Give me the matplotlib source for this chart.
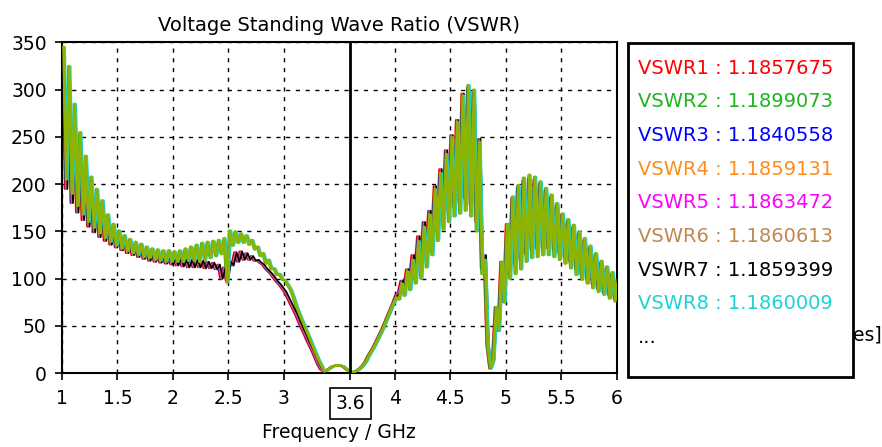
import numpy as np
import matplotlib
matplotlib.use("Agg")
import matplotlib.pyplot as plt
from matplotlib.patches import Rectangle

# frequency knots (GHz); each knot carries a peak at f and a trough at f + half step
freq = np.round(np.arange(1.0, 6.001, 0.05), 2)

# envelope of the lower group (VSWR1, 3, 4, 5, 6, 7)
a_top = [320, 300, 265, 240, 215, 200, 185, 175, 163, 155,
         148, 143, 139, 136, 133, 131, 129, 127, 125, 123,
         121, 121, 120, 120, 120, 119, 118, 117, 115, 112,
         118, 128, 129, 127, 124, 120, 115, 108, 101, 94,
         86, 74, 62, 48, 35, 23, 9, 2, 5, 8,
         8, 4.5, 1.2, 3, 8, 18, 28, 40, 53, 67,
         82, 98, 110, 125, 145, 160, 172, 198, 216, 236,
         252, 268, 296, 302, 298, 248, 125, 5, 70, 118,
         158, 185, 197, 204, 206, 205, 201, 194, 187, 178,
         168, 161, 155, 148, 141, 133, 125, 117, 111, 105,
         98]
a_bot = [195, 180, 170, 162, 155, 149, 144, 140, 136, 133,
         130, 127, 125, 123, 121, 119, 118, 117, 116, 115,
         114, 113, 112, 112, 112, 111, 111, 110, 100, 98,
         114, 118, 120, 120, 119, 117, 111, 105, 97, 90,
         80, 68, 55, 42, 29, 16, 4, 3, 7, 8.5,
         7, 2.5, 1.5, 5, 12, 23, 34, 46, 60, 74,
         85, 90, 98, 108, 115, 128, 140, 155, 165, 172,
         178, 180, 185, 178, 160, 110, 30, 14, 45, 75,
         105, 115, 120, 126, 130, 132, 133, 132, 130, 127,
         123, 117, 110, 104, 99, 94, 89, 85, 82, 78,
         75]

# envelope of the upper group (VSWR2, 8 and the rest)
b_top = [345, 325, 285, 255, 230, 208, 195, 183, 168, 158,
         151, 146, 142, 139, 137, 134, 132, 131, 130, 130,
         129, 130, 132, 134, 136, 138, 139, 140, 141, 143,
         151, 150, 148, 146, 141, 134, 127, 120, 111, 105,
         98, 88, 71, 56, 42, 28, 14, 2, 5, 8,
         8, 4.5, 1.2, 3, 8, 18, 28, 40, 53, 67,
         80, 95, 108, 120, 140, 155, 168, 195, 212, 232,
         250, 266, 294, 305, 300, 245, 120, 5, 70, 118,
         158, 187, 199, 207, 210, 208, 203, 196, 189, 180,
         169, 163, 157, 150, 143, 135, 127, 119, 113, 107,
         100]
b_bot = [205, 190, 177, 168, 160, 154, 148, 143, 139, 135,
         132, 129, 127, 125, 123, 122, 120, 119, 118, 118,
         118, 118, 119, 119, 118, 120, 122, 124, 126, 96,
         135, 138, 138, 136, 131, 124, 116, 110, 104, 99,
         93, 80, 63, 49, 35, 21, 8, 3, 7, 8.5,
         7, 2.5, 1.5, 5, 12, 23, 34, 46, 60, 74,
         78, 82, 88, 95, 100, 112, 125, 140, 152, 160,
         166, 169, 172, 166, 150, 105, 28, 14, 45, 75,
         100, 105, 110, 118, 122, 123, 125, 125, 123, 120,
         116, 111, 104, 99, 95, 90, 86, 83, 79, 76,
         72]

labels = ["VSWR1", "VSWR2", "VSWR3", "VSWR4", "VSWR5", "VSWR6", "VSWR7", "VSWR8"]
marker_values = ["1.1857675", "1.1899073", "1.1840558", "1.1859131",
                 "1.1863472", "1.1860613", "1.1859399", "1.1860009"]
colors = ["#FF0000", "#1EB41E", "#0000FF", "#FF8C1E",
          "#FF00FF", "#C08850", "#000000", "#1ED2D2"]
groups = ["a", "b", "a", "a", "a", "a", "a", "b"]
extra_color = "#8CB400"
marker_freq = 3.6

x_ticks = [1, 1.5, 2, 2.5, 3, 3.6, 4, 4.5, 5, 5.5, 6]
x_ticklabels = ["1", "1.5", "2", "2.5", "3", "", "4", "4.5", "5", "5.5", "6"]
y_ticks = [0, 50, 100, 150, 200, 250, 300, 350]

envelopes = {"a": (a_top, a_bot), "b": (b_top, b_bot)}


def zigzag(top, bot, shift):
    xs = np.column_stack([freq + shift, freq + 0.025 + shift]).ravel()
    ys = np.column_stack([top, bot]).ravel()
    return xs, ys


fig = plt.figure(figsize=(8.82, 4.47), dpi=100)
ax = fig.add_axes([0.0703, 0.165, 0.6287, 0.740])

for i, (color, grp) in enumerate(zip(colors, groups)):
    top, bot = envelopes[grp]
    xs, ys = zigzag(top, bot, i * 0.004)
    ax.plot(xs, ys, color=color, lw=1.2, zorder=2)

# the remaining curves hidden behind "..."
xs, ys = zigzag(b_top, b_bot, 0.014)
ax.plot(xs, ys, color=extra_color, lw=2.0, zorder=3)

ax.axvline(marker_freq, color="black", lw=2, zorder=4)

ax.set_xlim(1, 6)
ax.set_ylim(0, 350)
ax.set_xticks(x_ticks)
ax.set_xticklabels(x_ticklabels)
ax.set_yticks(y_ticks)
ax.tick_params(direction="out", length=5, width=1.2, labelsize=13.5, pad=6)
ax.grid(True, color="black", linestyle=(0, (3, 4)), lw=1.0, zorder=1)
for sp in ax.spines.values():
    sp.set_linewidth(1.5)

ax.text(marker_freq, -32, "3.6", ha="center", va="center", fontsize=13.5,
        transform=ax.transData, clip_on=False,
        bbox=dict(boxstyle="square,pad=0.3", fc="white", ec="black", lw=1.2))

ax.set_title("Voltage Standing Wave Ratio (VSWR)", fontsize=14, pad=8)
ax.set_xlabel("Frequency / GHz", fontsize=13.5, labelpad=11)

# partly hidden axis label to the right
fig.text(0.967, 0.25, "es]", fontsize=13.5, ha="left", va="center")

# marker-value box
box = Rectangle((0.712, 0.157), 0.255, 0.747, transform=fig.transFigure,
                facecolor="white", edgecolor="black", lw=2, zorder=5)
fig.patches.append(box)
y0 = 1 - 68 / 447
step = 33.7 / 447
for i, (lab, val, color) in enumerate(zip(labels, marker_values, colors)):
    fig.text(0.723, y0 - i * step, f"{lab} : {val}", color=color,
             fontsize=14, ha="left", va="center", zorder=6)
fig.text(0.723, y0 - 8 * step, "...", color="black", fontsize=14,
         ha="left", va="center", zorder=6)

fig.savefig("out.png", dpi=100)
